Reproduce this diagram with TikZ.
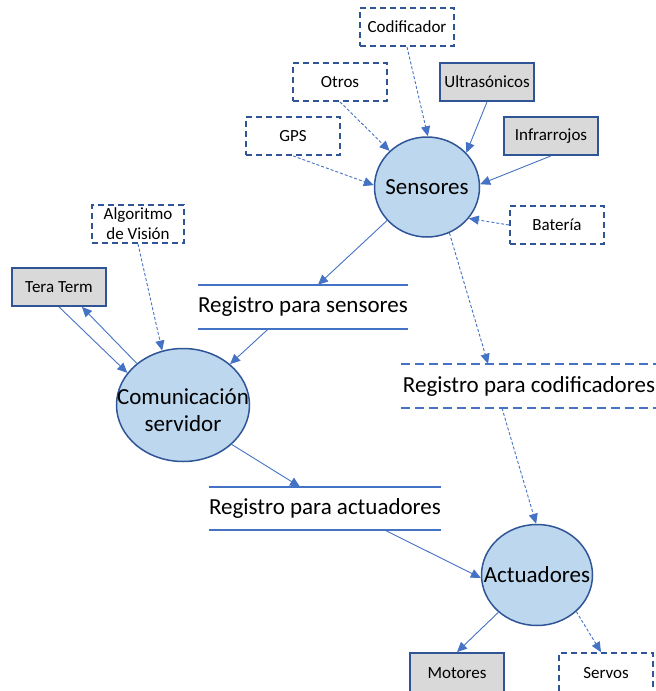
\documentclass[tikz,border=0pt]{standalone}
\usepackage{fontspec}
\setmainfont{Carlito}
\usepackage{xcolor}
\usepackage{tikz}
\usetikzlibrary{shapes,arrows.meta,positioning,calc}
\definecolor{linecolor}{RGB}{68,114,196}
\definecolor{edgecolor}{RGB}{47,85,151}
\definecolor{procfill}{RGB}{189,215,238}
\definecolor{extfill}{RGB}{217,217,217}

\begin{document}
\begin{tikzpicture}[x=1pt,y=-1pt,box/.style={draw=edgecolor,line width=1.8pt,minimum width=94pt,minimum height=38pt,inner sep=0pt,align=center,font=\fontsize{17}{20}\selectfont},ext/.style={box,fill=extfill},opt/.style={box,dash pattern=on 6pt off 4pt},proc/.style={ellipse,draw=edgecolor,line width=1.5pt,fill=procfill,inner sep=0pt},big/.style={align=center,inner sep=0pt,font=\fontsize{23}{27}\selectfont},store/.style={big,minimum height=44pt},regline/.style={linecolor,line width=2pt},dregline/.style={regline,dash pattern=on 9pt off 5pt},arr/.style={-{Triangle[length=10pt,width=9pt]},linecolor,line width=0.9pt},darr/.style={arr,dash pattern=on 3pt off 2pt}]
\useasboundingbox (0,0) rectangle (656,691);
% procesos
\node[proc,minimum width=105pt,minimum height=100pt](sen) at (427,187){}; \node[big](sentxt) at (sen){Sensores};
\node[proc,minimum width=133pt,minimum height=113pt](com) at (183,405){}; \node[big](comtxt) at (183,410){Comunicación\\servidor};
\node[proc,minimum width=111pt,minimum height=101pt](act) at (537,575){}; \node[big](acttxt) at (act){Actuadores};
% entidades
\node[opt](cod) at (407,27){Codificador}; \node[opt](otr) at (340,82){Otros}; \node[ext](ult) at (487,82){Ultrasónicos};
\node[opt](gps) at (293,136){GPS}; \node[ext](inf) at (551,136){Infrarrojos}; \node[opt](bat) at (557,225){Batería};
\node[opt,minimum width=92pt](alg) at (138,224){Algoritmo\\de Visión}; \node[ext](ter) at (59,287){Tera Term};
\node[ext,minimum height=40pt](mot) at (457,673){Motores}; \node[opt,minimum height=40pt](ser) at (606,673){Servos};
% registros
\node[store,minimum width=210pt](rsen) at (303,307){Registro para sensores};
\node[store,minimum width=256pt](rcod) at (529,386){Registro para codificadores};
\node[store,minimum width=232pt,minimum height=43pt](ract) at (325,508.5){Registro para actuadores};
\draw[regline](rsen.north west)--(rsen.north east); \draw[regline](rsen.south west)--(rsen.south east);
\draw[dregline](rcod.north west)--(rcod.north east); \draw[dregline](rcod.south west)--(rcod.south east);
\draw[regline](ract.north west)--(ract.north east); \draw[regline](ract.south west)--(ract.south east);
% flujos
\draw[darr](cod.south)--(sen.89); \draw[darr](otr.south)--(sen.136); \draw[arr](ult.south)--(sen.41);
\draw[darr](gps.south)--(sen.178); \draw[arr](inf.south)--(sen.3); \draw[darr](bat.west)--(sen.-37);
\draw[arr](sen.220)--([xshift=15pt]rsen.north); \draw[darr](sen.-64)--([xshift=-41pt]rcod.north);
\draw[arr]([xshift=-35pt]rsen.south)--(com.41); \draw[darr](alg.south)--(com.111);
\draw[arr](ter.south)--(com.150); \draw[arr](com.138)--(ter.-41);
\draw[arr](com.-39)--([xshift=-25pt]ract.north); \draw[darr]([xshift=-27pt]rcod.south)--(act.91);
\draw[arr]([xshift=60pt]ract.south)--(act.183); \draw[arr](act.224)--(mot.north); \draw[darr](act.-43)--([xshift=-5pt]ser.north);
\end{tikzpicture}
\end{document}
